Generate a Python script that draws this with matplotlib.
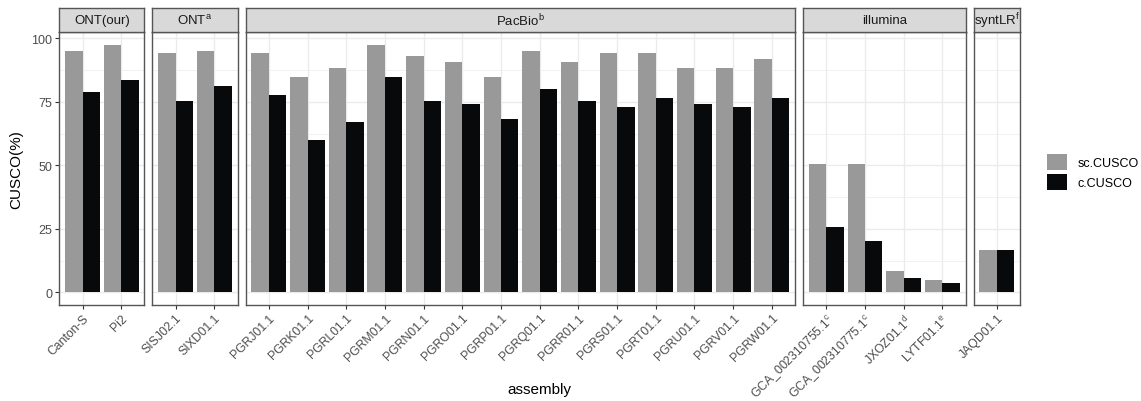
import numpy as np
import matplotlib.pyplot as plt
from matplotlib.patches import Patch

plt.rcParams['font.family'] = ['Liberation Sans', 'DejaVu Sans']

# facet titles
facets = ['ONT(our)', r'$\mathregular{ONT^a}$', r'$\mathregular{PacBio^b}$',
          'illumina', r'$\mathregular{syntLR^f}$']

# assemblies per facet
ont_our = ['Canton-S', 'Pi2']
ont_a = ['SISJ02.1', 'SIXD01.1']
pacbio = ['PGRJ01.1', 'PGRK01.1', 'PGRL01.1', 'PGRM01.1', 'PGRN01.1', 'PGRO01.1',
          'PGRP01.1', 'PGRQ01.1', 'PGRR01.1', 'PGRS01.1', 'PGRT01.1', 'PGRU01.1',
          'PGRV01.1', 'PGRW01.1']
illumina = [r'$\mathregular{GCA\_002310755.1^c}$', r'$\mathregular{GCA\_002310775.1^c}$',
            r'$\mathregular{JXOZ01.1^d}$', r'$\mathregular{LYTF01.1^e}$']
syntlr = ['JAQD01.1']

# sc.CUSCO values
sc_ont_our = [95.1, 97.5]
sc_ont_a = [94.1, 95.1]
sc_pacbio = [94.1, 84.6, 88.2, 97.5, 92.9, 90.6, 84.6, 95.1, 90.6, 94.1, 94.1, 88.2, 88.2, 91.7]
sc_illumina = [50.5, 50.5, 8.3, 4.7]
sc_syntlr = [16.5]

# c.CUSCO values
c_ont_our = [78.7, 83.6]
c_ont_a = [75.2, 81.1]
c_pacbio = [77.6, 59.8, 66.9, 84.6, 75.2, 74.0, 68.4, 79.9, 75.2, 72.8, 76.4, 74.0, 72.8, 76.4]
c_illumina = [25.8, 20.1, 5.8, 3.5]
c_syntlr = [16.5]

groups = [
    (facets[0], ont_our, sc_ont_our, c_ont_our),
    (facets[1], ont_a, sc_ont_a, c_ont_a),
    (facets[2], pacbio, sc_pacbio, c_pacbio),
    (facets[3], illumina, sc_illumina, c_illumina),
    (facets[4], syntlr, sc_syntlr, c_syntlr),
]

SC_COL = '#999999'
C_COL = '#08090b'
BORDER = '#555555'

W, H = 1141, 402
fig = plt.figure(figsize=(W / 100, H / 100), dpi=100)

# layout in pixels (facet_grid with free x space)
left = 59.3
unit = 38.7
gap = 8.0
p_top, p_bot, s_top = 33.3, 305.7, 9.3

x0 = left
for i, (title, names, sc, c) in enumerate(groups):
    n = len(names)
    w = (n + 0.2) * unit
    ax = fig.add_axes([x0 / W, 1 - p_bot / H, w / W, (p_bot - p_top) / H])
    xs = np.arange(n)
    ax.bar(xs - 0.225, sc, 0.45, color=SC_COL, zorder=2)
    ax.bar(xs + 0.225, c, 0.45, color=C_COL, zorder=2)
    ax.set_xlim(-0.6, n - 1 + 0.6)
    ax.set_ylim(-4.875, 102.375)
    ax.set_yticks([0, 25, 50, 75, 100])
    ax.set_yticks([12.5, 37.5, 62.5, 87.5], minor=True)
    ax.set_xticks(xs)
    ax.set_xticklabels(names, rotation=45, ha='right', rotation_mode='anchor',
                       fontsize=8.8, color='#4d4d4d')
    ax.grid(which='major', color='#ebebeb', lw=1.0, zorder=0)
    ax.grid(which='minor', axis='y', color='#ebebeb', lw=0.5, zorder=0)
    ax.set_axisbelow(True)
    ax.tick_params(axis='x', length=3, color='#333333', pad=2)
    ax.tick_params(axis='y', which='minor', length=0)
    if i == 0:
        ax.tick_params(axis='y', length=3, color='#333333', labelsize=9,
                       labelcolor='#4d4d4d', pad=2)
        ax.set_ylabel('CUSCO(%)', fontsize=11, labelpad=6)
    else:
        ax.tick_params(axis='y', left=False, labelleft=False)
    for sp in ax.spines.values():
        sp.set_color(BORDER)
        sp.set_linewidth(1.0)

    # strip on top
    sax = fig.add_axes([x0 / W, 1 - p_top / H, w / W, (p_top - s_top) / H])
    sax.set_facecolor('#d9d9d9')
    sax.set_xticks([])
    sax.set_yticks([])
    for sp in sax.spines.values():
        sp.set_color(BORDER)
        sp.set_linewidth(1.0)
    sax.text(0.5, 0.5, title, ha='center', va='center', fontsize=9.5,
             color='#1a1a1a', transform=sax.transAxes)

    x0 += w + gap

right = x0 - gap
fig.text((left + right) / 2 / W, 1 - 390 / H, 'assembly', ha='center', va='center',
         fontsize=11)

handles = [Patch(facecolor=SC_COL, label='sc.CUSCO'),
           Patch(facecolor=C_COL, label='c.CUSCO')]
fig.legend(handles=handles, loc='center left', bbox_to_anchor=(1036 / W, 1 - 173 / H),
           frameon=False, fontsize=9, handlelength=1.6, handleheight=1.6,
           handletextpad=0.8, labelspacing=0.3)

fig.savefig('out.png', dpi=100)
